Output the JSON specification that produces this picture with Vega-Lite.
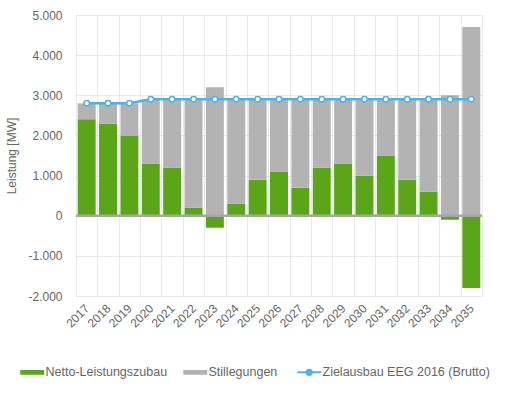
{
  "$schema": "https://vega.github.io/schema/vega-lite/v6.json",
  "width": 406,
  "height": 281,
  "autosize": "none",
  "padding": {"left": 76, "top": 15, "right": 25, "bottom": 102},
  "config": {
    "font": "Liberation Sans",
    "view": {"stroke": null},
    "axis": {
      "labelFont": "Liberation Sans",
      "titleFont": "Liberation Sans",
      "labelColor": "#666666",
      "titleColor": "#666666",
      "labelFontSize": 12,
      "titleFontSize": 12,
      "titleFontWeight": "normal",
      "gridColor": "#d4d4d4",
      "gridDash": [1, 1],
      "gridWidth": 1,
      "domain": false,
      "ticks": false
    },
    "legend": {
      "labelFont": "Liberation Sans",
      "labelFontSize": 12.5,
      "labelColor": "#666666",
      "labelLimit": 0
    }
  },
  "datasets": {
    "bars": [
      {"Jahr": "2017", "Reihe": "Netto-Leistungszubau", "Wert": 2400},
      {"Jahr": "2017", "Reihe": "Stillegungen", "Wert": 400},
      {"Jahr": "2018", "Reihe": "Netto-Leistungszubau", "Wert": 2300},
      {"Jahr": "2018", "Reihe": "Stillegungen", "Wert": 500},
      {"Jahr": "2019", "Reihe": "Netto-Leistungszubau", "Wert": 2000},
      {"Jahr": "2019", "Reihe": "Stillegungen", "Wert": 800},
      {"Jahr": "2020", "Reihe": "Netto-Leistungszubau", "Wert": 1300},
      {"Jahr": "2020", "Reihe": "Stillegungen", "Wert": 1600},
      {"Jahr": "2021", "Reihe": "Netto-Leistungszubau", "Wert": 1200},
      {"Jahr": "2021", "Reihe": "Stillegungen", "Wert": 1700},
      {"Jahr": "2022", "Reihe": "Netto-Leistungszubau", "Wert": 200},
      {"Jahr": "2022", "Reihe": "Stillegungen", "Wert": 2700},
      {"Jahr": "2023", "Reihe": "Netto-Leistungszubau", "Wert": -300},
      {"Jahr": "2023", "Reihe": "Stillegungen", "Wert": 3200},
      {"Jahr": "2024", "Reihe": "Netto-Leistungszubau", "Wert": 300},
      {"Jahr": "2024", "Reihe": "Stillegungen", "Wert": 2600},
      {"Jahr": "2025", "Reihe": "Netto-Leistungszubau", "Wert": 900},
      {"Jahr": "2025", "Reihe": "Stillegungen", "Wert": 2000},
      {"Jahr": "2026", "Reihe": "Netto-Leistungszubau", "Wert": 1100},
      {"Jahr": "2026", "Reihe": "Stillegungen", "Wert": 1800},
      {"Jahr": "2027", "Reihe": "Netto-Leistungszubau", "Wert": 700},
      {"Jahr": "2027", "Reihe": "Stillegungen", "Wert": 2200},
      {"Jahr": "2028", "Reihe": "Netto-Leistungszubau", "Wert": 1200},
      {"Jahr": "2028", "Reihe": "Stillegungen", "Wert": 1700},
      {"Jahr": "2029", "Reihe": "Netto-Leistungszubau", "Wert": 1300},
      {"Jahr": "2029", "Reihe": "Stillegungen", "Wert": 1600},
      {"Jahr": "2030", "Reihe": "Netto-Leistungszubau", "Wert": 1000},
      {"Jahr": "2030", "Reihe": "Stillegungen", "Wert": 1900},
      {"Jahr": "2031", "Reihe": "Netto-Leistungszubau", "Wert": 1500},
      {"Jahr": "2031", "Reihe": "Stillegungen", "Wert": 1400},
      {"Jahr": "2032", "Reihe": "Netto-Leistungszubau", "Wert": 900},
      {"Jahr": "2032", "Reihe": "Stillegungen", "Wert": 2000},
      {"Jahr": "2033", "Reihe": "Netto-Leistungszubau", "Wert": 600},
      {"Jahr": "2033", "Reihe": "Stillegungen", "Wert": 2300},
      {"Jahr": "2034", "Reihe": "Netto-Leistungszubau", "Wert": -100},
      {"Jahr": "2034", "Reihe": "Stillegungen", "Wert": 3000},
      {"Jahr": "2035", "Reihe": "Netto-Leistungszubau", "Wert": -1800},
      {"Jahr": "2035", "Reihe": "Stillegungen", "Wert": 4700}
    ],
    "ziel": [
      {"Jahr": "2017", "Wert": 2800},
      {"Jahr": "2018", "Wert": 2800},
      {"Jahr": "2019", "Wert": 2800},
      {"Jahr": "2020", "Wert": 2900},
      {"Jahr": "2021", "Wert": 2900},
      {"Jahr": "2022", "Wert": 2900},
      {"Jahr": "2023", "Wert": 2900},
      {"Jahr": "2024", "Wert": 2900},
      {"Jahr": "2025", "Wert": 2900},
      {"Jahr": "2026", "Wert": 2900},
      {"Jahr": "2027", "Wert": 2900},
      {"Jahr": "2028", "Wert": 2900},
      {"Jahr": "2029", "Wert": 2900},
      {"Jahr": "2030", "Wert": 2900},
      {"Jahr": "2031", "Wert": 2900},
      {"Jahr": "2032", "Wert": 2900},
      {"Jahr": "2033", "Wert": 2900},
      {"Jahr": "2034", "Wert": 2900},
      {"Jahr": "2035", "Wert": 2900}
    ]
  },
  "layer": [
    {
      "data": {"name": "bars"},
      "mark": {"type": "bar", "width": {"band": 0.84}},
      "encoding": {
        "x": {
          "field": "Jahr",
          "type": "nominal",
          "scale": {"paddingInner": 0, "paddingOuter": 0},
          "axis": {
            "title": null,
            "grid": true,
            "tickBand": "extent",
            "labelAngle": -45,
            "labelAlign": "right",
            "labelBaseline": "middle",
            "labelPadding": 10
          }
        },
        "y": {
          "field": "Wert",
          "type": "quantitative",
          "stack": "zero",
          "scale": {"domain": [-2000, 5000], "nice": false},
          "axis": {
            "title": "Leistung [MW]",
            "values": [-2000, -1000, 0, 1000, 2000, 3000, 4000, 5000],
            "labelExpr": "(datum.value < 0 ? '-' : '') + replace(format(abs(datum.value), ','), ',', '.')",
            "labelPadding": 14,
            "titlePadding": 9,
            "grid": true
          }
        },
        "color": {
          "field": "Reihe",
          "type": "nominal",
          "scale": {
            "domain": ["Netto-Leistungszubau", "Stillegungen", "Zielausbau EEG 2016 (Brutto)"],
            "range": ["#5aa618", "#b3b3b3", "#4db3e6"]
          },
          "legend": {
            "title": null,
            "orient": "none",
            "legendX": -50,
            "legendY": 351,
            "direction": "horizontal",
            "symbolSize": 576,
            "labelOffset": 7,
            "columnPadding": 15,
            "encode": {
              "symbols": {
                "update": {
                  "shape": {"signal": "datum.value === 'Zielausbau EEG 2016 (Brutto)' ? 'M-1,0H1M-0.22,0A0.22,0.22,0,1,1,0.22,0A0.22,0.22,0,1,1,-0.22,0' : 'M-1,-0.2H1V0.2H-1Z'"},
                  "fill": {"scale": "color", "field": "value"},
                  "stroke": {"scale": "color", "field": "value"},
                  "strokeWidth": {"signal": "datum.value === 'Zielausbau EEG 2016 (Brutto)' ? 2 : 0"},
                  "opacity": {"value": 1}
                }
              }
            }
          }
        },
        "order": {"field": "Reihe", "type": "nominal", "sort": "ascending"}
      }
    },
    {
      "data": {"values": [{}]},
      "mark": {"type": "rule", "color": "#a6a6a6", "strokeWidth": 2.5},
      "encoding": {"y": {"datum": 0}}
    },
    {
      "data": {"name": "ziel"},
      "mark": {
        "type": "line",
        "strokeWidth": 2.5,
        "point": {"filled": false, "fill": "white", "size": 30, "strokeWidth": 1.5}
      },
      "encoding": {
        "x": {"field": "Jahr", "type": "nominal"},
        "y": {"field": "Wert", "type": "quantitative"},
        "color": {"datum": "Zielausbau EEG 2016 (Brutto)"}
      }
    }
  ]
}
